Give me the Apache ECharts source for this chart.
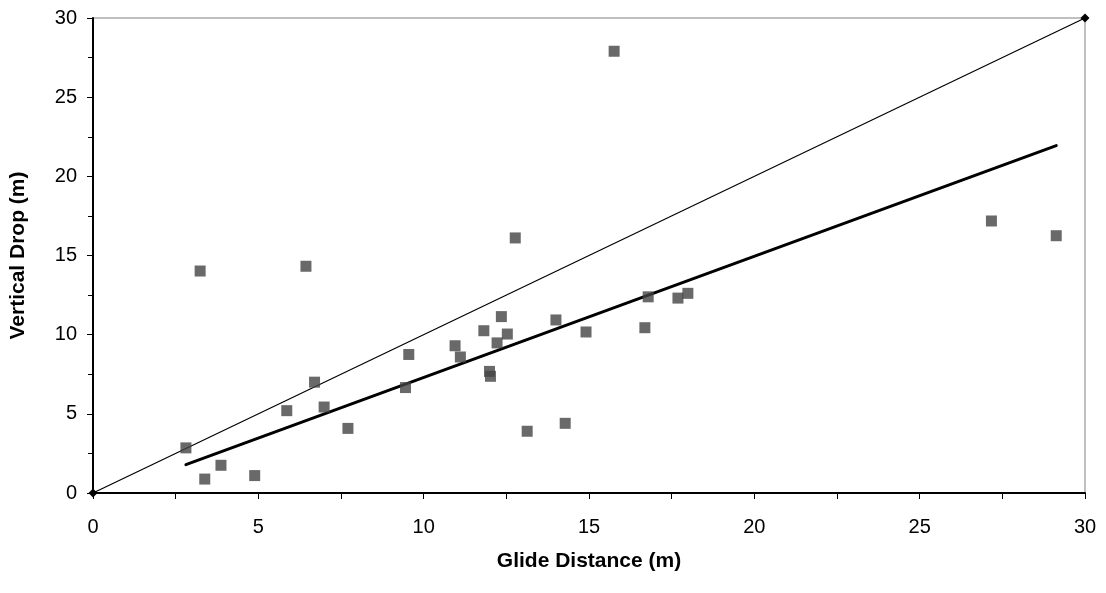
<!DOCTYPE html>
<html>
<head>
<meta charset="utf-8">
<script src="https://cdn.jsdelivr.net/npm/echarts@6/dist/echarts.min.js"></script>
<style>
  html, body { margin: 0; padding: 0; background: #fff; }
  #chart { width: 1106px; height: 593px; }
</style>
</head>
<body>
<div id="chart"></div>
<script>
// Glide distance (m) of each trial
const glideDistance = [
  2.81, 3.38, 3.24, 3.87, 4.89, 5.86, 6.44, 6.70, 6.99, 7.71,
  9.45, 9.55, 10.95, 11.11, 11.82, 11.99, 12.02, 12.22, 12.35, 12.53,
  12.77, 13.13, 14.00, 14.28, 14.91, 15.76, 16.69, 16.79, 17.69, 17.99,
  27.17, 29.13
];
// Vertical drop (m) of each trial
const verticalDrop = [
  2.85, 0.88, 14.02, 1.75, 1.10, 5.20, 14.32, 7.00, 5.43, 4.08,
  6.66, 8.75, 9.30, 8.59, 10.25, 7.68, 7.37, 9.48, 11.14, 10.04,
  16.11, 3.90, 10.93, 4.40, 10.17, 27.90, 10.44, 12.39, 12.31, 12.61,
  17.18, 16.25
];
// Fitted line end points (x, y)
const fitX = [2.81, 29.13];
const fitY = [1.79, 21.94];
// 1:1 reference line end points
const unityX = [0, 30];
const unityY = [0, 30];

const points = glideDistance.map((x, i) => [x, verticalDrop[i]]);
const fitLine = fitX.map((x, i) => [x, fitY[i]]);
const unityLine = unityX.map((x, i) => [x, unityY[i]]);

const font = 'Liberation Sans, Arial, sans-serif';

const chart = echarts.init(document.getElementById('chart'));
chart.setOption({
  animation: false,
  backgroundColor: '#ffffff',
  grid: {
    left: 91, right: 21, top: 18, bottom: 100,
    show: true, borderColor: '#808080', borderWidth: 1, backgroundColor: 'transparent'
  },
  xAxis: {
    type: 'value', min: 0, max: 30, interval: 5,
    name: 'Glide Distance (m)', nameLocation: 'middle', nameGap: 58,
    nameTextStyle: { fontFamily: font, fontSize: 21, fontWeight: 'bold', color: '#000' },
    axisLine: { show: true, onZero: false, lineStyle: { color: '#000', width: 2 } },
    axisTick: { show: true, inside: false, length: 6, lineStyle: { color: '#000', width: 1 } },
    minorTick: { show: true, splitNumber: 2, length: 6, lineStyle: { color: '#000', width: 1 } },
    axisLabel: { fontFamily: font, fontSize: 20, color: '#000', margin: 24 },
    splitLine: { show: false }
  },
  yAxis: {
    type: 'value', min: 0, max: 30, interval: 5,
    name: 'Vertical Drop (m)', nameLocation: 'middle', nameGap: 64,
    nameTextStyle: { fontFamily: font, fontSize: 21, fontWeight: 'bold', color: '#000' },
    axisLine: { show: true, onZero: false, lineStyle: { color: '#000', width: 2 } },
    axisTick: { show: true, inside: false, length: 6, lineStyle: { color: '#000', width: 1 } },
    minorTick: { show: true, splitNumber: 2, length: 5, lineStyle: { color: '#000', width: 1 } },
    axisLabel: { fontFamily: font, fontSize: 20, color: '#000', margin: 16 },
    splitLine: { show: false }
  },
  series: [
    {
      name: 'unity',
      type: 'line',
      data: unityLine,
      symbol: 'diamond', symbolSize: 9,
      itemStyle: { color: '#000' },
      lineStyle: { color: '#000', width: 1.2 },
      z: 2
    },
    {
      name: 'fit',
      type: 'line',
      data: fitLine,
      showSymbol: false, symbol: 'none',
      lineStyle: { color: '#000', width: 3, cap: 'round' },
      z: 3
    },
    {
      name: 'trials',
      type: 'scatter',
      data: points,
      symbol: 'rect', symbolSize: 11,
      itemStyle: { color: '#444444' },
      z: 4
    }
  ]
});
</script>
</body>
</html>
